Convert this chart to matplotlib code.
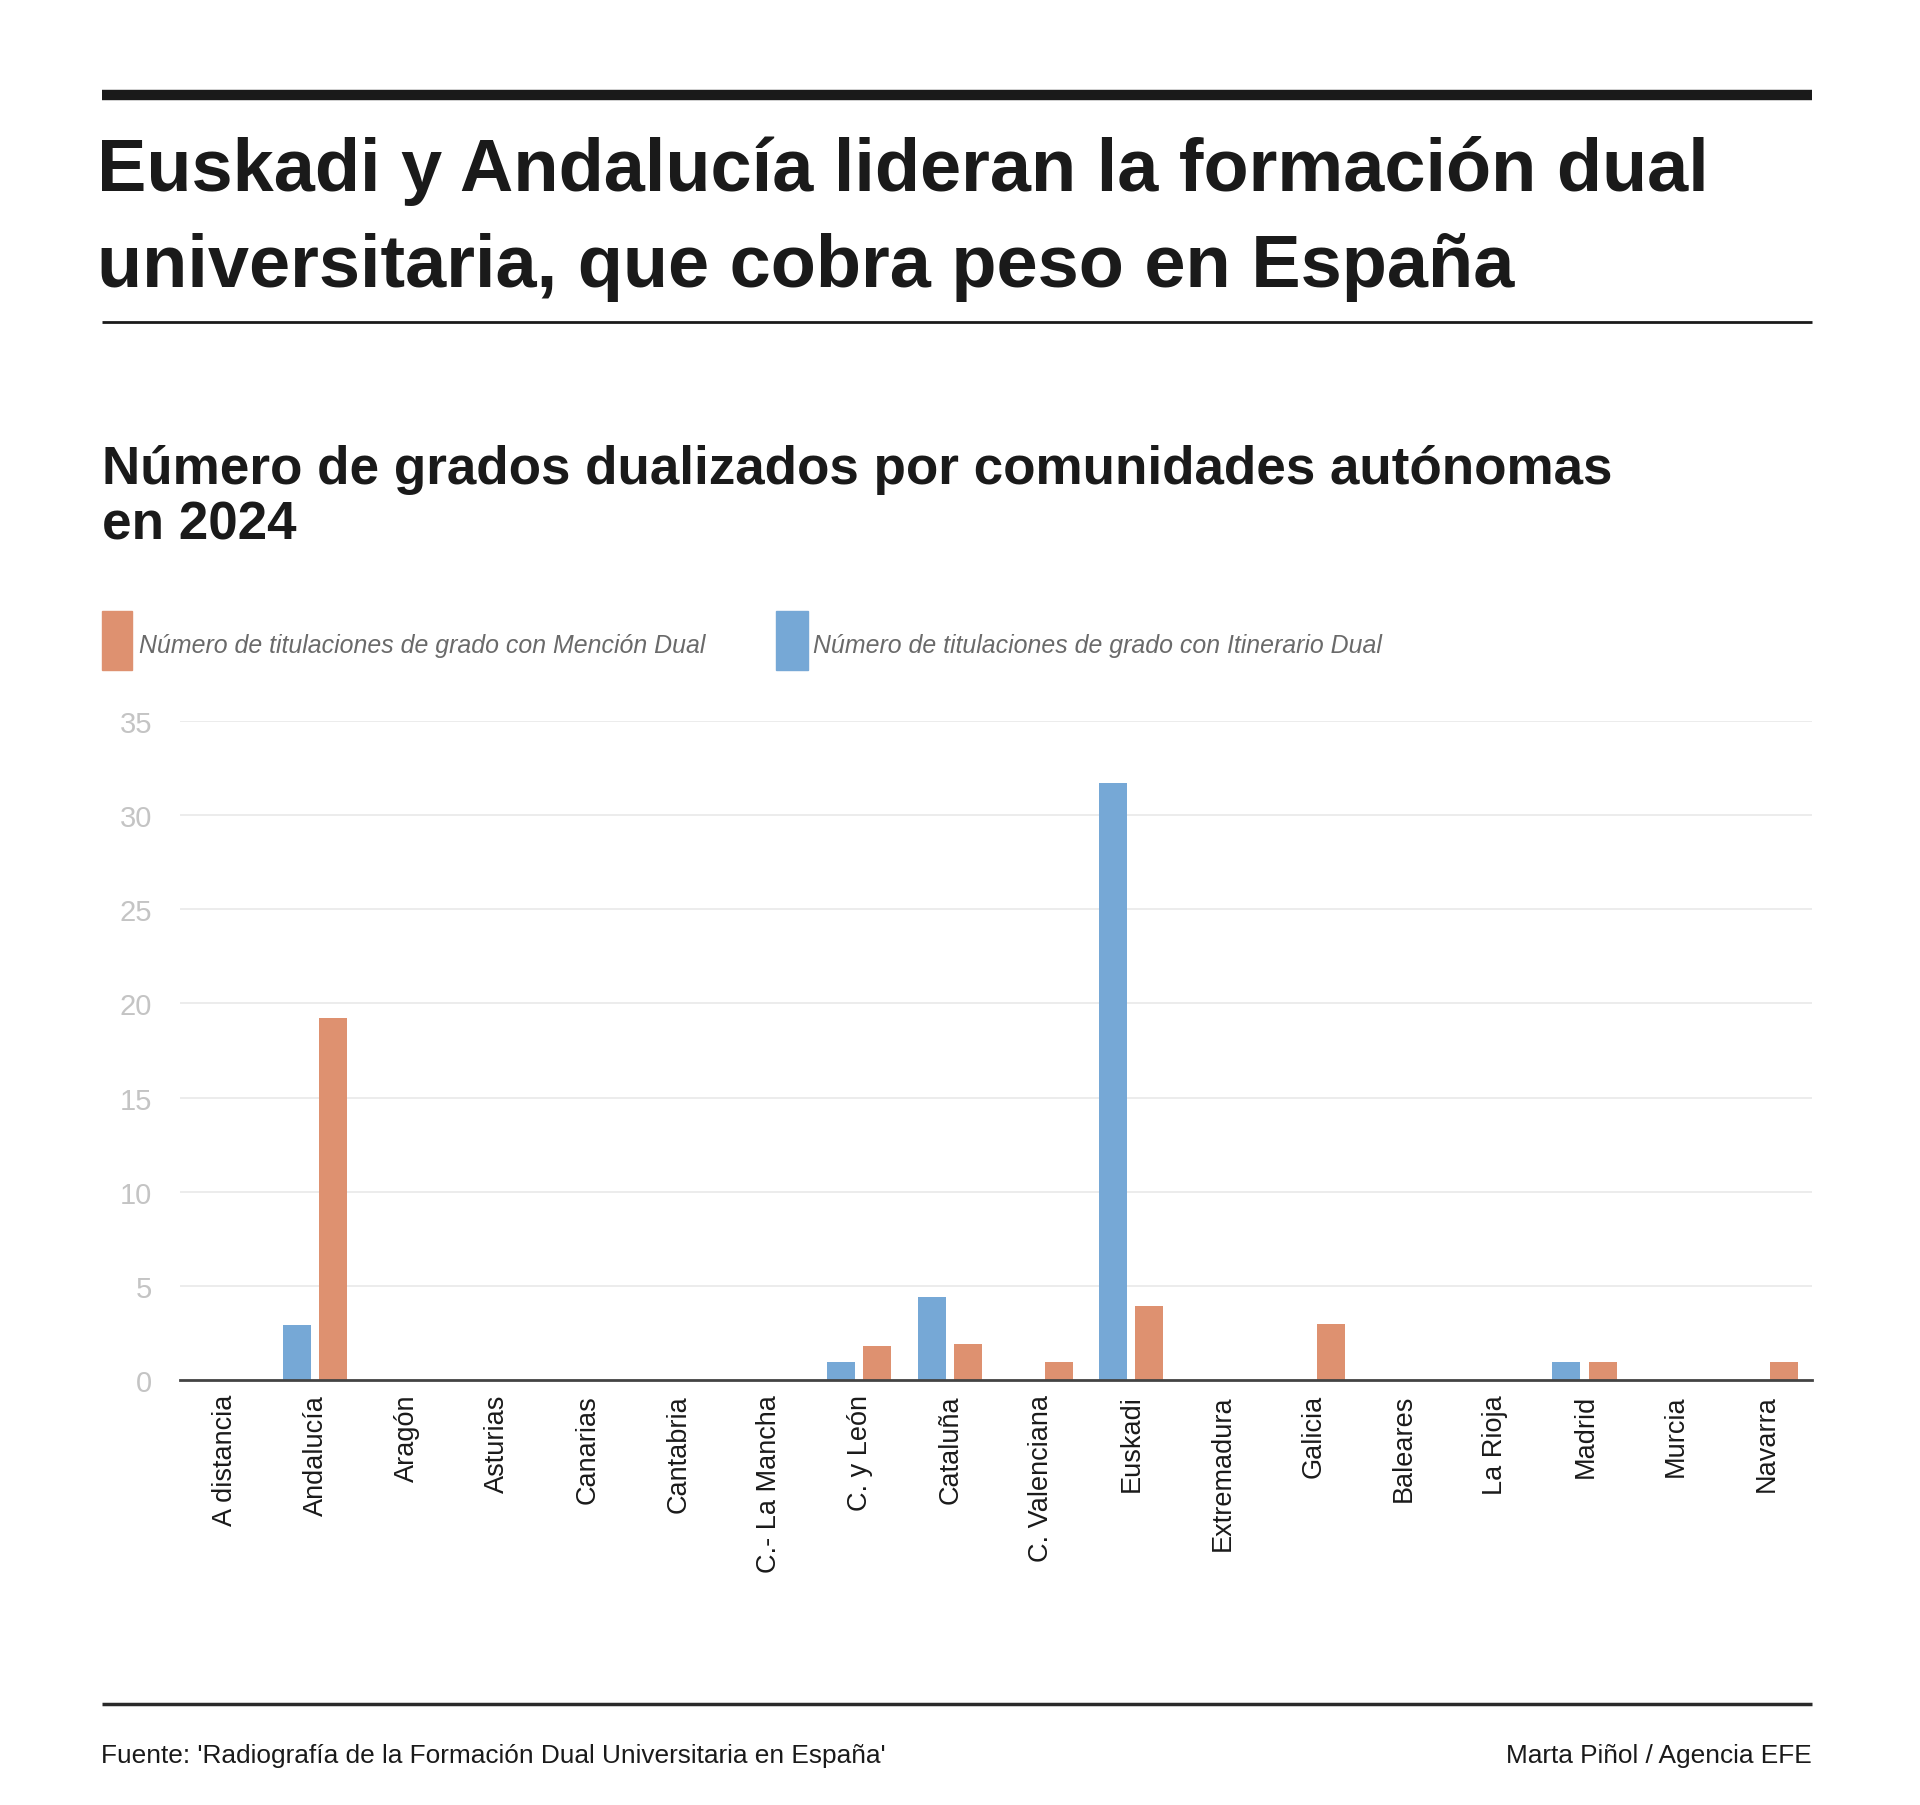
import matplotlib
matplotlib.use("Agg")
import matplotlib.pyplot as plt
import matplotlib.transforms as mtransforms
import numpy as np
from matplotlib.patches import Rectangle
from matplotlib.lines import Line2D

categories = ["A distancia", "Andalucía", "Aragón", "Asturias", "Canarias", "Cantabria",
              "C.- La Mancha", "C. y León", "Cataluña", "C. Valenciana", "Euskadi",
              "Extremadura", "Galicia", "Baleares", "La Rioja", "Madrid", "Murcia", "Navarra"]
itinerario = [0, 2.9, 0, 0, 0, 0, 0, 0.95, 4.4, 0, 31.7, 0, 0, 0, 0, 0.95, 0, 0]
mencion = [0, 19.2, 0, 0, 0, 0, 0, 1.8, 1.9, 0.95, 3.95, 0, 3.0, 0, 0, 0.95, 0, 0.95]
yticks = [0, 5, 10, 15, 20, 25, 30, 35]

title = "Euskadi y Andalucía lideran la formación dual\nuniversitaria, que cobra peso en España"
subtitle = "Número de grados dualizados por comunidades autónomas\nen 2024"
legend_mencion = "Número de titulaciones de grado con Mención Dual"
legend_itinerario = "Número de titulaciones de grado con Itinerario Dual"
source = "Fuente: 'Radiografía de la Formación Dual Universitaria en España'"
credit = "Marta Piñol / Agencia EFE"

ORANGE = "#DE9170"
BLUE = "#76A8D6"
SANS = ["Liberation Sans", "DejaVu Sans"]

W, H = 1920, 1806
fig = plt.figure(figsize=(W / 100, H / 100), dpi=100)
fig.patch.set_facecolor("white")

def fx(x):
    return x / W

def fy(y):
    return 1 - y / H

# header rules
fig.add_artist(Line2D([fx(102), fx(1812)], [fy(95.5), fy(95.5)], color="#1a1a1a", lw=7.5,
                      solid_capstyle="butt"))
fig.add_artist(Line2D([fx(102), fx(1812)], [fy(323), fy(323)], color="#1a1a1a", lw=2,
                      solid_capstyle="butt"))

# title
lines = title.split("\n")
fig.text(fx(97), fy(191), lines[0], family=SANS, weight="bold", fontsize=53.3,
         color="#1a1a1a", va="baseline", ha="left")
fig.text(fx(97), fy(287), lines[1], family=SANS, weight="bold", fontsize=53.3,
         color="#1a1a1a", va="baseline", ha="left")

# subtitle
slines = subtitle.split("\n")
fig.text(fx(102), fy(484), slines[0], family=SANS, weight="bold", fontsize=38.2,
         color="#1a1a1a", va="baseline", ha="left")
fig.text(fx(102), fy(539), slines[1], family=SANS, weight="bold", fontsize=38.2,
         color="#1a1a1a", va="baseline", ha="left")

# legend
fig.add_artist(Rectangle((fx(102), fy(671)), fx(30), 59 / H, color=ORANGE, transform=fig.transFigure))
fig.text(fx(139), fy(646), legend_mencion, family=SANS, style="italic", fontsize=17.9,
         color="#6a6a6a", va="center", ha="left")
fig.add_artist(Rectangle((fx(776), fy(671)), fx(32), 59 / H, color=BLUE, transform=fig.transFigure))
fig.text(fx(813), fy(646), legend_itinerario, family=SANS, style="italic", fontsize=17.9,
         color="#6a6a6a", va="center", ha="left")

# axes
ax = fig.add_axes([fx(180), fy(1381), fx(1812) - fx(180), (1381 - 722) / H])
x = np.arange(len(categories))
bw = 0.31
ax.bar(x - 0.21, itinerario, width=bw, color=BLUE, zorder=3)
ax.bar(x + 0.19, mencion, width=bw, color=ORANGE, zorder=3)
ax.set_xlim(-0.5, len(categories) - 0.5)
ax.set_ylim(0, 35)
ax.set_yticks(yticks)
ax.set_yticklabels([str(v) for v in yticks], family=SANS, fontsize=21, color="#c4c4c4")
ax.set_xticks(x)
ax.set_xticklabels(categories, rotation=90, family=SANS, fontsize=19.5, color="#1a1a1a",
                   va="top", ha="center")
shift = mtransforms.ScaledTranslation(-5 / 100, 0, fig.dpi_scale_trans)
for lab in ax.get_xticklabels():
    lab.set_transform(lab.get_transform() + shift)
ax.tick_params(axis="both", length=0)
ax.tick_params(axis="x", pad=10)
ax.tick_params(axis="y", pad=20)
ax.grid(axis="y", color="#ebebeb", lw=1.3, zorder=0)
for s in ["top", "right", "left"]:
    ax.spines[s].set_visible(False)
ax.spines["bottom"].set_color("#444444")
ax.spines["bottom"].set_linewidth(2)
ax.spines["bottom"].set_zorder(4)

# footer
fig.add_artist(Line2D([fx(102), fx(1812)], [fy(1705), fy(1705)], color="#2a2a2a", lw=2.5,
                      solid_capstyle="butt"))
fig.text(fx(101), fy(1756), source, family=SANS, fontsize=18.9, color="#1a1a1a",
         va="center", ha="left")
fig.text(fx(1812), fy(1756), credit, family=SANS, fontsize=18.9, color="#1a1a1a",
         va="center", ha="right")

fig.savefig("out.png", dpi=100, facecolor="white")
